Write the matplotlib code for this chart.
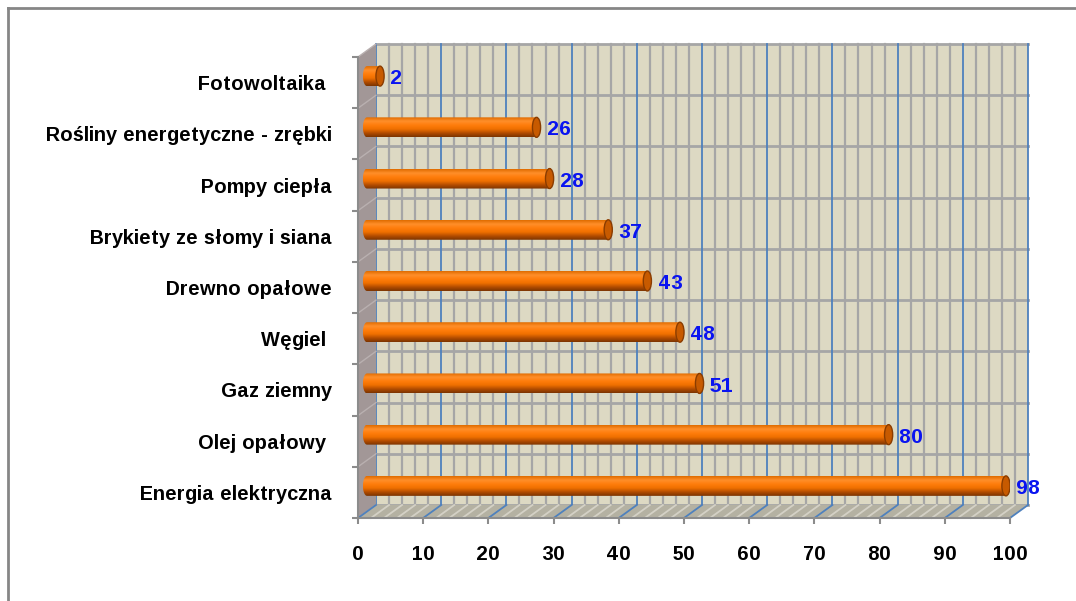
import numpy as np
import matplotlib.pyplot as plt
from matplotlib.patches import Polygon, Ellipse
from matplotlib.lines import Line2D
from matplotlib.colors import LinearSegmentedColormap

# data
# -------------------------------------------------------------------
categories = ["Energia elektryczna", "Olej opałowy ", "Gaz ziemny", "Węgiel ",
              "Drewno opałowe", "Brykiety ze słomy i siana", "Pompy ciepła",
              "Rośliny energetyczne - zrębki", "Fotowoltaika "]
values = [98, 80, 51, 48, 43, 37, 28, 26, 2]
xticks = list(range(0, 101, 10))

plt.rcParams['font.family'] = ['Liberation Sans', 'DejaVu Sans']
plt.rcParams['font.weight'] = 'bold'
plt.rcParams['text.hinting_factor'] = 1

fig = plt.figure(figsize=(10.76, 6.01), dpi=100)
ax = fig.add_axes([358 / 1076, 1 - 518 / 601, 652 / 1076, 461 / 601])
ax.set_xlim(0, 100)
ax.set_ylim(-0.5, 8.5)

# depth of the 3d box in data units
DX, DY = 2.76, 0.254
n = len(categories)
y0, y1 = -0.5, n - 0.5

wall_c = "#ddd9c3"
floor_c = "#b4b1a2"
side_c = "#a29797"
grid_c = "#a6a6a6"
major_c = "#4f81bd"

# back wall
ax.add_patch(Polygon([(DX, y0 + DY), (100 + DX, y0 + DY), (100 + DX, y1 + DY), (DX, y1 + DY)],
                     closed=True, fc=wall_c, ec="none", zorder=1, clip_on=False))
for v in range(0, 101, 2):
    c = major_c if v % 10 == 0 else grid_c
    ax.plot([v + DX, v + DX], [y0 + DY, y1 + DY], color=c, lw=1.6 if v % 10 else 1.3,
            zorder=3 if v % 10 == 0 else 2, clip_on=False)
for k in range(n + 1):
    ax.plot([DX, 100 + DX], [k - 0.5 + DY] * 2, color=grid_c, lw=2, zorder=2, clip_on=False)

# left wall
ax.add_patch(Polygon([(0, y0), (DX, y0 + DY), (DX, y1 + DY), (0, y1)],
                     closed=True, fc=side_c, ec="none", zorder=4, clip_on=False))
for k in range(n + 1):
    ax.plot([0, DX], [k - 0.5, k - 0.5 + DY], color="#b9b0b0", lw=1, zorder=4, clip_on=False)

# floor
ax.add_patch(Polygon([(0, y0), (100, y0), (100 + DX, y0 + DY), (DX, y0 + DY)],
                     closed=True, fc=floor_c, ec="none", zorder=4, clip_on=False))
for v in range(0, 101, 2):
    c = major_c if v % 10 == 0 else "#d4d1c6"
    ax.plot([v, v + DX], [y0, y0 + DY], color=c, lw=1.3, zorder=5, clip_on=False)

# cylinders
cmap = LinearSegmentedColormap.from_list(
    "cyl", ["#e06c00", "#ff8f2a", "#ff7d0c", "#f07000", "#b44d00", "#7c3400"])
grad = np.linspace(0, 1, 64).reshape(-1, 1)
h = 0.39
cap_w = 1.25
for i, v in enumerate(values):
    yc = i + DY / 2
    xs = DX / 2
    xe = v + DX / 2
    t = np.linspace(np.pi / 2, 3 * np.pi / 2, 30)
    left = np.column_stack([xs + cap_w / 2 * np.cos(t), yc + h / 2 * np.sin(t)])
    outline = np.vstack([left, [[xe, yc - h / 2], [xe, yc + h / 2]]])
    clip = Polygon(outline, closed=True, fc="none", ec="none", transform=ax.transData)
    ax.add_patch(clip)
    im = ax.imshow(grad, cmap=cmap, aspect="auto", zorder=6,
                   extent=[xs - cap_w / 2, xe, yc - h / 2, yc + h / 2], origin="upper")
    im.set_clip_path(clip)
    ax.add_patch(Ellipse((xe, yc), cap_w, h, fc="#c75a00", ec="#8a3c00", lw=1, zorder=7))
    ax.text(xe + 1.6, yc - 0.05, str(v), color="#0a14f0", fontsize=15, fontweight="bold",
            ha="left", va="center", zorder=8)

ax.set_xlim(0, 100)
ax.set_ylim(-0.5, 8.5)

# axes
for s in ["top", "right"]:
    ax.spines[s].set_visible(False)
for s in ["left", "bottom"]:
    ax.spines[s].set_color("#8c8c8c")
    ax.spines[s].set_linewidth(1.5)
    ax.spines[s].set_zorder(9)
ax.patch.set_visible(False)

ax.set_xticks(xticks)
ax.set_xticklabels([str(x) for x in xticks], fontsize=14.5, fontweight="bold")
ax.tick_params(axis="x", length=4.5, width=1.5, color="#8c8c8c", pad=15)

ax.set_yticks(np.arange(-0.5, n, 1))
ax.set_yticklabels([])
ax.set_yticks(range(n), minor=True)
ax.set_yticklabels(categories, minor=True, fontsize=14.5, fontweight="bold")
ax.tick_params(axis="y", which="major", length=4.5, width=1.5, color="#8c8c8c")
ax.tick_params(axis="y", which="minor", length=0, pad=19)
for lbl in ax.get_yticklabels(minor=True):
    lbl.set_va("center_baseline")

# chart frame
fig.add_artist(Line2D([8 / 1076, 1], [1 - 8 / 601] * 2, color="#868686", lw=2))
fig.add_artist(Line2D([8 / 1076] * 2, [0, 1 - 8 / 601], color="#868686", lw=2))

fig.savefig("out.png", dpi=100)
